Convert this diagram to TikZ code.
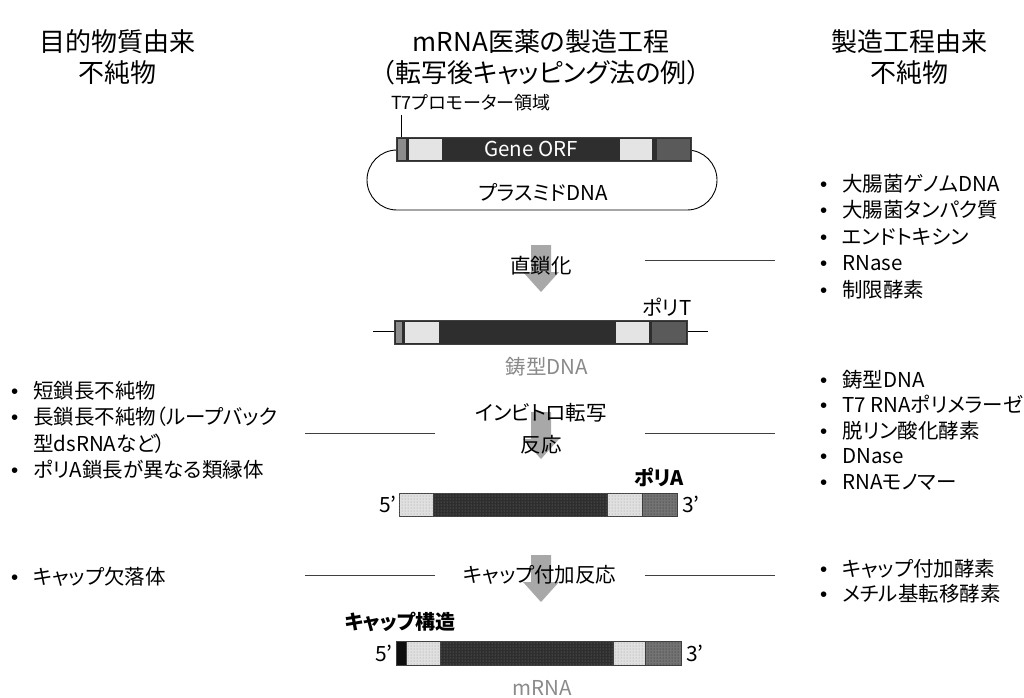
\documentclass[tikz,border=0pt]{standalone}
\usepackage{fontspec}
\setmainfont{Noto Sans CJK JP}[RawFeature=+palt]
\newfontfamily\latinfont{Liberation Sans}
\usetikzlibrary{patterns}
\definecolor{arrowgray}{HTML}{A8A8A8}
\definecolor{segline}{HTML}{404040}
\definecolor{promo}{HTML}{8C8C8C}
\definecolor{lightseg}{HTML}{E4E4E4}
\definecolor{darkseg}{HTML}{2E2E2E}
\definecolor{midseg}{HTML}{5A5A5A}
\definecolor{captext}{HTML}{8A8A8A}
\definecolor{tieline}{HTML}{404040}
\newcommand\bul{\llap{{\latinfont •}\hspace{15pt}}}
\tikzset{
  head/.style={font=\fontsize{26}{31}\selectfont, align=center, inner sep=0},
  stepname/.style={font=\fontsize{20.5}{32}\selectfont, align=center, inner sep=0},
  small/.style={font=\fontsize{18}{20}\selectfont, inner sep=0},
  label18/.style={font=\fontsize{20.5}{22}\selectfont, inner sep=0},
  boldlab/.style={font=\fontsize{20}{22}\selectfont\bfseries, inner sep=0},
  endlab/.style={font=\fontsize{21}{24}\selectfont, inner sep=0},
  itemlist/.style={font=\fontsize{20.5}{26.5}\selectfont, align=left, anchor=base west, inner sep=0},
  seg/.style={draw=segline, line width=0.8pt},
  tie/.style={draw=tieline, line width=0.9pt},
  flowarrow/.pic={\fill[arrowgray] (-10,0) -- (10,0) -- (10,27) -- (18,27) -- (0,47) -- (-18,27) -- (-10,27) -- cycle;},
  ldot/.style={seg, fill=black!12, postaction={pattern=dots, pattern color=black!40}},
  ddot/.style={seg, fill=black!82, postaction={pattern=dots, pattern color=black!50}},
  mdot/.style={seg, fill=black!55, postaction={pattern=dots, pattern color=black!85}},
}
\begin{document}
\begin{tikzpicture}[x=1pt,y=-1pt]
\useasboundingbox (0,0) rectangle (1024,697);
\fill[white] (0,0) rectangle (1024,697);

% headings
\node[head] (hl) at (117,57) {目的物質由来\\不純物};
\node[head] (hc) at (541,57) {mRNA医薬の製造工程\\（転写後キャッピング法の例）};
\node[head] (hr) at (909,57) {製造工程由来\\不純物};

% plasmid
\draw[line width=0.9pt, rounded corners=30pt] (367,150) rectangle (717,210);
\draw[seg, fill=darkseg] (396,137) rectangle (691,161);
\fill[promo] (397.5,138.5) rectangle (405.5,159.5);
\fill[lightseg] (409,138.5) rectangle (442,159.5);
\fill[lightseg] (620,138.5) rectangle (652,159.5);
\fill[midseg] (657,138.5) rectangle (689.5,159.5);
\node[label18, text=white] (orf) at (531,149) {Gene ORF};
\node[label18] (pl) at (543,192) {プラスミドDNA};
\node[small, anchor=west] (t7) at (391,103) {T7プロモーター領域};
\coordinate (t7bar) at (401,137);
\draw[line width=1pt] (t7bar |- t7.south) ++(0,3) -- (t7bar);

% arrow 1
\pic at (541,245) {flowarrow};
\node[stepname] (s1) at (541,266) {直鎖化};
\coordinate (r1a) at (645,260); \coordinate (r1b) at (775,260);
\draw[tie] (r1a) -- (r1b);

% template DNA
\coordinate (tl) at (373,331); \coordinate (tr) at (708,331);
\draw[line width=0.9pt] (tl) -- (394,331);
\draw[line width=0.9pt] (687,331) -- (tr);
\draw[seg, fill=darkseg] (394,320) rectangle (687,344);
\fill[promo] (395.5,321.5) rectangle (402,342.5);
\fill[lightseg] (405,321.5) rectangle (439,342.5);
\fill[lightseg] (616,321.5) rectangle (649,342.5);
\fill[midseg] (652,321.5) rectangle (685.5,342.5);
\node[label18] (polyT) at (667,307) {ポリT};
\node[label18, text=captext] (tmpl) at (547,367) {鋳型DNA};

% arrow 2
\pic at (541,412) {flowarrow};
\node[stepname] (s2) at (541,429) {インビトロ転写\\反応};
\coordinate (l2a) at (305,433); \coordinate (l2b) at (435,433);
\coordinate (r2a) at (645,433); \coordinate (r2b) at (775,433);
\draw[tie] (l2a) -- (l2b);
\draw[tie] (r2a) -- (r2b);

% RNA strand
\draw[ldot] (399,493) rectangle (433,516);
\draw[ddot] (433,493) rectangle (607,516);
\draw[ldot] (607,493) rectangle (642,516);
\draw[mdot] (642,493) rectangle (677,516);
\node[endlab, anchor=east] (r5) at (397,504) {5’};
\node[endlab, anchor=west] (r3) at (682,504) {3’};
\node[boldlab] (polyA) at (659,477) {ポリA};

% arrow 3
\pic at (541,555) {flowarrow};
\node[stepname] (s3) at (540,575) {キャップ付加反応};
\coordinate (l3a) at (305,575); \coordinate (l3b) at (435,575);
\coordinate (r3a) at (645,575); \coordinate (r3b) at (775,575);
\draw[tie] (l3a) -- (l3b);
\draw[tie] (r3a) -- (r3b);

% mRNA
\draw[seg, fill=black!95] (396,641) rectangle (406,665);
\draw[ldot] (406,641) rectangle (440,665);
\draw[ddot] (440,641) rectangle (613,665);
\draw[ldot] (613,641) rectangle (645,665);
\draw[mdot] (645,641) rectangle (681,665);
\node[endlab, anchor=east] (m5) at (393,653) {5’};
\node[endlab, anchor=west] (m3) at (686,653) {3’};
\node[boldlab] (cap) at (400,622) {キャップ構造};
\node[label18, text=captext] (mrna) at (542,688) {mRNA};

% lists (base anchor = baseline of last line)
\node[itemlist] (leftA) at (33,477.5) {\bul 短鎖長不純物\\\bul 長鎖長不純物（ループバック\\型dsRNAなど）\\\bul ポリA鎖長が異なる類縁体};
\node[itemlist] (leftB) at (33,584) {\bul キャップ欠落体};
\node[itemlist] (rightA) at (842,297) {\bul 大腸菌ゲノムDNA\\\bul 大腸菌タンパク質\\\bul エンドトキシン\\\bul RNase\\\bul 制限酵素};
\node[itemlist, font=\fontsize{20.5}{25.5}\selectfont] (rightB) at (842,489) {\bul 鋳型DNA\\\bul T7 RNAポリメラーゼ\\\bul 脱リン酸化酵素\\\bul DNase\\\bul RNAモノマー};
\node[itemlist, font=\fontsize{20.5}{25}\selectfont] (rightC) at (842,601) {\bul キャップ付加酵素\\\bul メチル基転移酵素};
\end{tikzpicture}
\end{document}
